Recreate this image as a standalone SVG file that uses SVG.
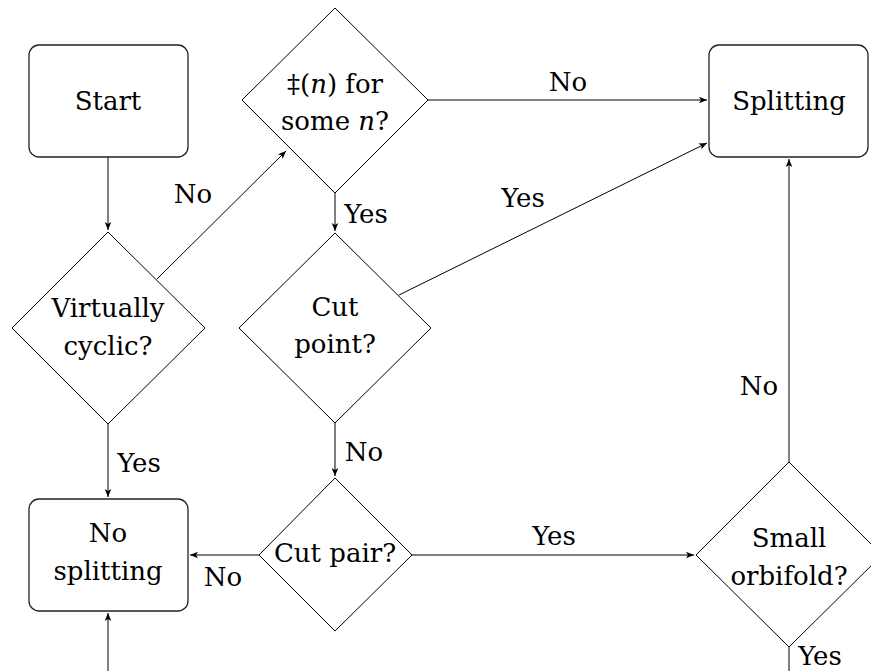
<svg xmlns="http://www.w3.org/2000/svg" width="871" height="671" viewBox="0 0 871 671">
<style>
text{font-family:"DejaVu Serif","Liberation Serif",serif;font-size:26px;fill:#000;text-anchor:middle}
.box{fill:#fff;stroke:#222;stroke-width:1.3}
.dia{fill:#fff;stroke:#000;stroke-width:1}
.edge{fill:none;stroke:#000;stroke-width:1;marker-end:url(#arr)}
.plain{fill:none;stroke:#000;stroke-width:1}
</style>
<defs>
<marker id="arr" markerUnits="userSpaceOnUse" markerWidth="12" markerHeight="10" viewBox="-9 -5 10 10" refX="0" refY="0" orient="auto">
<path d="M0,0 L-8,-3.3 L-6,0 L-8,3.3 Z" fill="#000"/>
</marker>
</defs>
<rect width="871" height="671" fill="#fff"/>
<g id="connectors">
<line class="edge" x1="108" y1="157" x2="108" y2="230"/>
<line class="edge" x1="157" y1="279" x2="286" y2="151"/>
<line class="edge" x1="428" y1="100" x2="707" y2="100"/>
<line class="edge" x1="335" y1="193" x2="335" y2="231"/>
<line class="edge" x1="399" y1="295" x2="707" y2="143"/>
<line class="edge" x1="335" y1="423" x2="335" y2="476"/>
<line class="edge" x1="108" y1="424" x2="108" y2="497"/>
<line class="edge" x1="259" y1="555" x2="190" y2="555"/>
<line class="edge" x1="412" y1="555" x2="694" y2="555"/>
<line class="edge" x1="789" y1="462" x2="789" y2="159"/>
<line class="edge" x1="108" y1="671" x2="108" y2="613"/>
<line class="plain" x1="789" y1="647" x2="789" y2="671"/>
<text x="193" y="203">No</text>
<text x="568" y="91">No</text>
<text x="366" y="223">Yes</text>
<text x="523" y="207">Yes</text>
<text x="364" y="461">No</text>
<text x="139" y="472">Yes</text>
<text x="223" y="586">No</text>
<text x="554" y="545">Yes</text>
<text x="759" y="395">No</text>
<text x="820" y="665">Yes</text>
</g>
<g id="start">
<rect class="box" x="29" y="45" width="159" height="112" rx="10"/>
<text x="108" y="110">Start</text>
</g>
<g id="some-n">
<polygon class="dia" points="335,8 428,100 335,193 242,100"/>
<text x="335" y="93">‡(<tspan font-style="italic">n</tspan>) for</text>
<text x="335" y="130">some <tspan font-style="italic">n</tspan>?</text>
</g>
<g id="splitting">
<rect class="box" x="709" y="45" width="159" height="112" rx="10"/>
<text x="789" y="110">Splitting</text>
</g>
<g id="virtually-cyclic">
<polygon class="dia" points="108,232 205,328 108,424 12,328"/>
<text x="108" y="317">Virtually</text>
<text x="108" y="355">cyclic?</text>
</g>
<g id="cut-point">
<polygon class="dia" points="335,233 431,328 335,423 239,328"/>
<text x="335" y="316">Cut</text>
<text x="335" y="353">point?</text>
</g>
<g id="no-splitting">
<rect class="box" x="29" y="499" width="159" height="112" rx="10"/>
<text x="108" y="542">No</text>
<text x="108" y="580">splitting</text>
</g>
<g id="cut-pair">
<polygon class="dia" points="335,478 412,555 335,631 259,555"/>
<text x="335" y="562">Cut pair?</text>
</g>
<g id="small-orbifold">
<polygon class="dia" points="789,462 882,555 789,647 696,555"/>
<text x="789" y="547">Small</text>
<text x="789" y="585">orbifold?</text>
</g>
</svg>
